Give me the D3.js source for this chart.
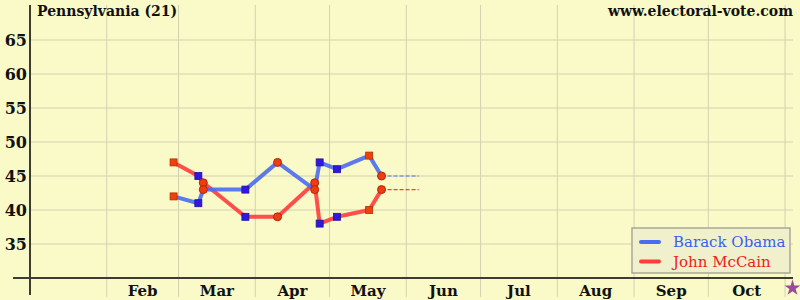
<!DOCTYPE html>
<html>
<head>
<meta charset="utf-8">
<script src="https://cdn.jsdelivr.net/npm/d3@7"></script>
<style>
    body { margin: 0; background: #fafac8; }
    svg { display: block; }
    text { font-family: "DejaVu Serif", serif; }
</style>
</head>
<body>
<div id="chart"></div>
<script>
/*global d3*/

// poll dates and numbers (Pennsylvania)
var pollDates = ["2008-02-28", "2008-03-09", "2008-03-11", "2008-03-28", "2008-04-10",
    "2008-04-25", "2008-04-27", "2008-05-04", "2008-05-17", "2008-05-22"];
var obama = [42, 41, 43, 43, 47, 43, 47, 46, 48, 45];
var mccain = [47, 45, 44, 39, 39, 44, 38, 39, 40, 43];
// marker kind for each poll
var markers = ["redSquare", "blueSquare", "circle", "blueSquare", "circle",
    "circle", "blueSquare", "blueSquare", "redSquare", "circle"];
var lastDay = "2008-06-06";
var months = ["Feb", "Mar", "Apr", "May", "Jun", "Jul", "Aug", "Sep", "Oct"];
var yTicks = [35, 40, 45, 50, 55, 60, 65];
var candidates = ["Barack Obama", "John McCain"];

(function () {
    "use strict";

    var width = 800,
        height = 300,
        parse = d3.timeParse("%Y-%m-%d"),
        blue = "#4a6cf0",
        red = "#ff3c3c",
        gridColor = "#d2d2b0",
        axisColor = "#3c3c30";

    var svg = d3.select("#chart").append("svg")
        .attr("width", width)
        .attr("height", height);

    svg.append("rect")
        .attr("width", width)
        .attr("height", height)
        .attr("fill", "#fafac8");

    var x = d3.scaleTime()
        .domain([new Date(2008, 0, 1), new Date(2008, 10, 4)])
        .range([30, 792.5]);

    var y = d3.scaleLinear()
        .domain([30, 70])
        .range([278, 6]);

    // vertical grid at month starts
    var monthStarts = d3.range(1, 11).map(function (m) {
        return new Date(2008, m, 1);
    });

    svg.append("g").selectAll("line")
        .data(monthStarts)
        .enter().append("line")
        .attr("x1", function (d) { return x(d); })
        .attr("x2", function (d) { return x(d); })
        .attr("y1", 5)
        .attr("y2", 297)
        .attr("stroke", gridColor)
        .attr("stroke-width", 1);

    svg.append("g").selectAll("line")
        .data(yTicks)
        .enter().append("line")
        .attr("x1", 30)
        .attr("x2", 793)
        .attr("y1", function (d) { return y(d); })
        .attr("y2", function (d) { return y(d); })
        .attr("stroke", gridColor)
        .attr("stroke-width", 1);

    // axes
    svg.append("line")
        .attr("x1", 13).attr("x2", 793)
        .attr("y1", y(30)).attr("y2", y(30))
        .attr("stroke", axisColor).attr("stroke-width", 2);
    svg.append("line")
        .attr("x1", 30).attr("x2", 30)
        .attr("y1", 5).attr("y2", 295)
        .attr("stroke", axisColor).attr("stroke-width", 2);

    svg.append("g").selectAll("text")
        .data(yTicks)
        .enter().append("text")
        .attr("x", 27)
        .attr("y", function (d) { return y(d) + 6; })
        .attr("text-anchor", "end")
        .attr("font-size", 16)
        .attr("font-weight", "bold")
        .attr("fill", "#111")
        .text(function (d) { return d; });

    svg.append("g").selectAll("text")
        .data(months)
        .enter().append("text")
        .attr("x", function (d, i) {
            return (x(monthStarts[i]) + x(monthStarts[i + 1])) / 2;
        })
        .attr("y", 296)
        .attr("text-anchor", "middle")
        .attr("font-size", 15)
        .attr("font-weight", "bold")
        .attr("fill", "#111")
        .text(function (d) { return d; });

    // election day star
    svg.append("path")
        .attr("d", d3.symbol().type(d3.symbolStar).size(80)())
        .attr("transform", "translate(" + x(new Date(2008, 10, 4)) + "," + 288 + ")")
        .attr("fill", "#9a4a9a");

    svg.append("text")
        .attr("x", 37).attr("y", 16)
        .attr("font-size", 14)
        .attr("font-weight", "bold")
        .attr("fill", "#111")
        .text("Pennsylvania (21)");

    svg.append("text")
        .attr("x", 793).attr("y", 16)
        .attr("text-anchor", "end")
        .attr("font-size", 14)
        .attr("font-weight", "bold")
        .attr("fill", "#111")
        .text("www.electoral-vote.com");

    // series
    var polls = pollDates.map(function (d, i) {
        return { date: parse(d), obama: obama[i], mccain: mccain[i], marker: markers[i] };
    });
    var last = polls[polls.length - 1];

    var series = [
        { key: "mccain", color: red },
        { key: "obama", color: blue }
    ];

    series.forEach(function (s) {
        var line = d3.line()
            .x(function (d) { return x(d.date); })
            .y(function (d) { return y(d[s.key]); });

        svg.append("path")
            .datum(polls)
            .attr("d", line)
            .attr("fill", "none")
            .attr("stroke", s.color)
            .attr("stroke-width", 4)
            .attr("stroke-opacity", 0.9)
            .attr("stroke-linejoin", "round");

        svg.append("line")
            .attr("x1", x(last.date)).attr("x2", x(parse(lastDay)))
            .attr("y1", y(last[s.key])).attr("y2", y(last[s.key]))
            .attr("stroke", s.color)
            .attr("stroke-width", 1.2)
            .attr("stroke-dasharray", "4,2");
    });

    series.forEach(function (s) {
        var g = svg.append("g");
        polls.forEach(function (d) {
            var cx = x(d.date),
                cy = y(d[s.key]);
            if (d.marker === "circle") {
                g.append("circle")
                    .attr("cx", cx).attr("cy", cy).attr("r", 4)
                    .attr("fill", "#f03c14")
                    .attr("stroke", "#b02800")
                    .attr("stroke-width", 1);
            } else {
                g.append("rect")
                    .attr("x", cx - 3.5).attr("y", cy - 3.5)
                    .attr("width", 7).attr("height", 7)
                    .attr("fill", d.marker === "blueSquare" ? "#3018e0" : "#f0400c")
                    .attr("stroke", d.marker === "blueSquare" ? "#2010a0" : "#b03000")
                    .attr("stroke-width", 0.8);
            }
        });
    });

    // legend
    var legend = svg.append("g").attr("transform", "translate(632,228)");
    legend.append("rect")
        .attr("width", 158).attr("height", 45)
        .attr("fill", "#f0f0cc")
        .attr("stroke", "#a8a898")
        .attr("stroke-width", 1.5);

    legend.selectAll("line")
        .data(candidates)
        .enter().append("line")
        .attr("x1", 9).attr("x2", 27)
        .attr("y1", function (d, i) { return 14 + i * 19.5; })
        .attr("y2", function (d, i) { return 14 + i * 19.5; })
        .attr("stroke", function (d, i) { return i === 0 ? blue : red; })
        .attr("stroke-width", 4)
        .attr("stroke-linecap", "round");

    legend.selectAll("text")
        .data(candidates)
        .enter().append("text")
        .attr("x", 41)
        .attr("y", function (d, i) { return 19 + i * 19.5; })
        .attr("font-size", 15)
        .attr("fill", function (d, i) { return i === 0 ? "#3e5ef0" : "#f02020"; })
        .text(function (d) { return d; });
}());
</script>
</body>
</html>
